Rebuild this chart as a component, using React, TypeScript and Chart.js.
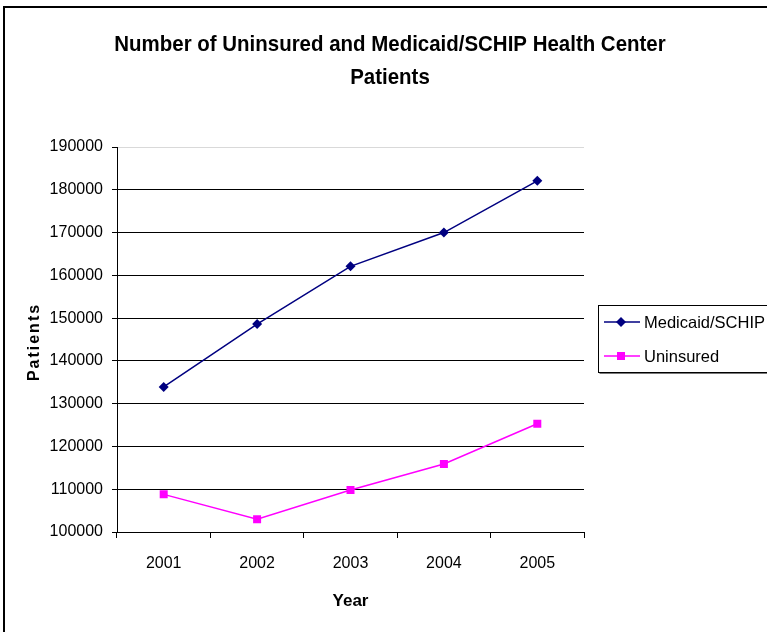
import React, { useEffect, useRef } from "react";
import { Chart, registerables } from "chart.js";

Chart.register(...registerables);

const years = ["2001", "2002", "2003", "2004", "2005"];
const medicaid = [133900, 148600, 162100, 170000, 182100];
const uninsured = [108800, 103000, 109800, 115900, 125300];
const yMin = 100000;
const yMax = 190000;
const yStep = 10000;
const titleLines = ["Number of Uninsured and Medicaid/SCHIP Health Center", "Patients"];
const xTitle = "Year";
const yTitle = "Patients";
const seriesNames = ["Medicaid/SCHIP", "Uninsured"];
const seriesColors = ["#000080", "#FF00FF"];

const FONT = "'Liberation Sans', Arial, sans-serif";

function drawMarker(ctx: CanvasRenderingContext2D, kind: number, x: number, y: number, color: string) {
  ctx.save();
  ctx.fillStyle = color;
  ctx.beginPath();
  if (kind === 0) {
    const r = 5;
    ctx.moveTo(x, y - r);
    ctx.lineTo(x + r, y);
    ctx.lineTo(x, y + r);
    ctx.lineTo(x - r, y);
    ctx.closePath();
  } else {
    ctx.rect(x - 4, y - 4, 8, 8);
  }
  ctx.fill();
  ctx.restore();
}

const decorPlugin = {
  id: "decor",
  beforeDraw(chart: any) {
    const ctx = chart.ctx as CanvasRenderingContext2D;
    ctx.save();
    ctx.fillStyle = "#ffffff";
    ctx.fillRect(0, 0, chart.width, chart.height);
    ctx.strokeStyle = "#000000";
    ctx.lineWidth = 2;
    ctx.beginPath();
    ctx.moveTo(4, chart.height + 2);
    ctx.lineTo(4, 7);
    ctx.lineTo(chart.width + 2, 7);
    ctx.stroke();
    ctx.restore();
  },
  afterDraw(chart: any) {
    const ctx = chart.ctx as CanvasRenderingContext2D;
    ctx.save();
    // title (slightly condensed, like the reference)
    ctx.fillStyle = "#000";
    ctx.font = `bold 22px ${FONT}`;
    ctx.textAlign = "center";
    ctx.textBaseline = "middle";
    ctx.save();
    ctx.translate(390, 0);
    ctx.scale(0.93, 1);
    ctx.fillText(titleLines[0], 0, 45);
    ctx.fillText(titleLines[1], 0, 78);
    ctx.restore();
    // y title, letter spaced
    ctx.save();
    ctx.translate(35, 343);
    ctx.rotate(-Math.PI / 2);
    ctx.font = `bold 16px ${FONT}`;
    (ctx as any).letterSpacing = "2px";
    ctx.textAlign = "center";
    ctx.textBaseline = "middle";
    ctx.fillText(yTitle, 1, 0);
    ctx.restore();
    // legend
    const lx = 598.5, ly = 305.5, lw = 175, lh = 67;
    ctx.strokeStyle = "#000";
    ctx.lineWidth = 1;
    ctx.strokeRect(lx, ly, lw, lh);
    ctx.strokeStyle = "#777";
    ctx.beginPath();
    ctx.moveTo(lx + 1, ly + lh + 1);
    ctx.lineTo(lx + lw + 1, ly + lh + 1);
    ctx.stroke();
    const rows = [322, 356];
    chart.data.datasets.forEach((ds: any, i: number) => {
      const y = rows[i];
      ctx.strokeStyle = ds.borderColor;
      ctx.lineWidth = 1.5;
      ctx.beginPath();
      ctx.moveTo(604, y);
      ctx.lineTo(640, y);
      ctx.stroke();
      drawMarker(ctx, i, 621, y, ds.borderColor);
      ctx.fillStyle = "#000";
      ctx.font = `16.5px ${FONT}`;
      ctx.textAlign = "left";
      ctx.textBaseline = "middle";
      ctx.fillText(ds.label, 644, y + 1);
    });
    ctx.restore();
  },
};

export default function App() {
  const ref = useRef<HTMLCanvasElement | null>(null);
  useEffect(() => {
    if (!ref.current) return;
    const chart = new Chart(ref.current, {
      type: "line",
      data: {
        labels: years,
        datasets: [
          {
            label: seriesNames[0],
            data: medicaid,
            borderColor: seriesColors[0],
            backgroundColor: seriesColors[0],
            borderWidth: 1.5,
            pointStyle: "rectRot",
            pointRadius: 5,
            pointBorderWidth: 0,
            tension: 0,
          },
          {
            label: seriesNames[1],
            data: uninsured,
            borderColor: seriesColors[1],
            backgroundColor: seriesColors[1],
            borderWidth: 1.5,
            pointStyle: "rect",
            pointRadius: 5.66,
            pointBorderWidth: 0,
            tension: 0,
          },
        ],
      },
      options: {
        responsive: false,
        animation: false,
        events: [],
        layout: { padding: { top: 147, left: 0, right: 183, bottom: 0 } },
        plugins: {
          legend: { display: false },
          title: { display: false },
          tooltip: { enabled: false },
        },
        scales: {
          x: {
            type: "category",
            offset: true,
            afterFit: (s: any) => {
              s.height = 100;
            },
            grid: {
              offset: true,
              drawOnChartArea: false,
              drawTicks: true,
              tickLength: 6,
              tickColor: "#000",
            },
            border: { color: "#000", width: 1 },
            ticks: {
              color: "#000",
              font: { family: FONT, size: 16 },
              padding: 16,
              maxRotation: 0,
            },
            title: {
              display: true,
              text: xTitle,
              color: "#000",
              font: { family: FONT, size: 17, weight: "bold" },
              padding: { top: 0, bottom: 20 },
            },
          },
          y: {
            min: yMin,
            max: yMax,
            afterFit: (s: any) => {
              s.width = 117;
            },
            grid: {
              color: (c: any) => (c.tick && c.tick.value === yMax ? "#d9d9d9" : "#000"),
              lineWidth: 1,
              drawTicks: true,
              tickLength: 5,
              tickColor: "#000",
            },
            border: { color: "#000", width: 1 },
            ticks: {
              stepSize: yStep,
              color: "#000",
              font: { family: FONT, size: 16 },
              padding: 9,
              callback: (v: any) => String(v),
            },
          },
        },
      },
      plugins: [decorPlugin],
    } as any);
    return () => chart.destroy();
  }, []);
  return (
    <div style={{ position: "absolute", left: 0, top: 0, width: 767, height: 632 }}>
      <canvas ref={ref} width={767} height={632} />
    </div>
  );
}
